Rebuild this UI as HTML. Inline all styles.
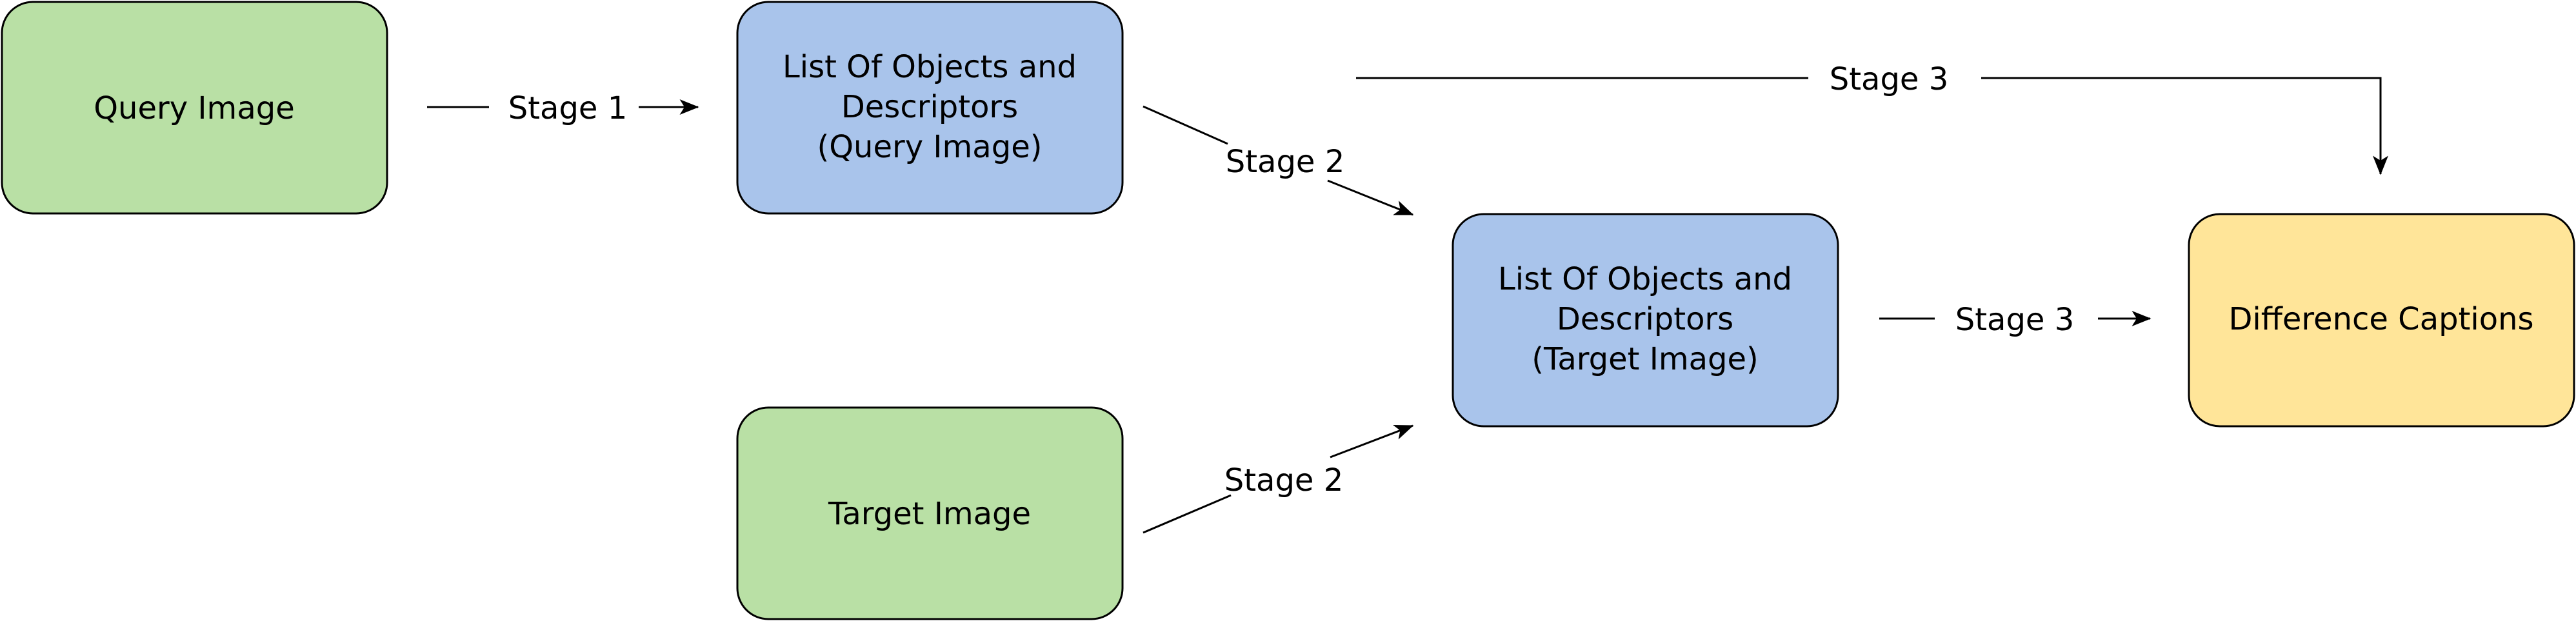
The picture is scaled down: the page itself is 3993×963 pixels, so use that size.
<!DOCTYPE html>
<html><head><meta charset="utf-8"><style>
html,body{margin:0;padding:0;background:#fff;}
svg{display:block;}
text{font-family:"DejaVu Sans","Liberation Sans",sans-serif;font-size:48px;fill:#000;}
</style></head><body>
<svg width="3993" height="963" viewBox="0 0 3993 963" xmlns="http://www.w3.org/2000/svg">
<defs>
<marker id="a" viewBox="0 0 10 10" refX="9" refY="5" markerWidth="9" markerHeight="9" markerUnits="userSpaceOnUse" orient="auto">
</marker>
<marker id="ar" viewBox="0 0 20 16" refX="19" refY="8" markerWidth="30" markerHeight="24" markerUnits="userSpaceOnUse" orient="auto">
<path d="M0,0 L20,8 L0,16 L5,8 Z" fill="#000"/>
</marker>
</defs>
<g stroke="#000" stroke-width="3">
<rect x="3" y="3" width="597" height="328" rx="48" fill="#b9e0a5"/>
<rect x="1143" y="3" width="597" height="328" rx="48" fill="#a9c4eb"/>
<rect x="1143" y="632" width="597" height="328" rx="48" fill="#b9e0a5"/>
<rect x="2252" y="332" width="597" height="329" rx="48" fill="#a9c4eb"/>
<rect x="3393" y="332" width="597" height="329" rx="48" fill="#ffe599"/>
</g>
<g stroke="#000" stroke-width="3" fill="none">
<line x1="662" y1="166" x2="758" y2="166"/>
<line x1="990" y1="166" x2="1082" y2="166" marker-end="url(#ar)"/>
<line x1="1772" y1="165" x2="1903" y2="223"/>
<line x1="2058" y1="280" x2="2190" y2="333" marker-end="url(#ar)"/>
<line x1="1772" y1="826" x2="1908" y2="768"/>
<line x1="2062" y1="709" x2="2190" y2="660" marker-end="url(#ar)"/>
<line x1="2102" y1="121" x2="2803" y2="121"/>
<polyline points="3071,121 3690,121 3690,270" marker-end="url(#ar)"/>
<line x1="2913" y1="494" x2="2999" y2="494"/>
<line x1="3252" y1="494" x2="3333" y2="494" marker-end="url(#ar)"/>
</g>
<g text-anchor="middle">
<text x="301" y="184">Query Image</text>
<text x="1441" y="120">List Of Objects and</text>
<text x="1441" y="182">Descriptors</text>
<text x="1441" y="244">(Query Image)</text>
<text x="1441" y="813">Target Image</text>
<text x="2550" y="449">List Of Objects and</text>
<text x="2550" y="511">Descriptors</text>
<text x="2550" y="573">(Target Image)</text>
<text x="3691" y="511">Difference Captions</text>
<text x="880" y="184">Stage 1</text>
<text x="1992" y="267">Stage 2</text>
<text x="1990" y="761">Stage 2</text>
<text x="2928" y="139">Stage 3</text>
<text x="3123" y="512">Stage 3</text>
</g>
</svg>
</body></html>
